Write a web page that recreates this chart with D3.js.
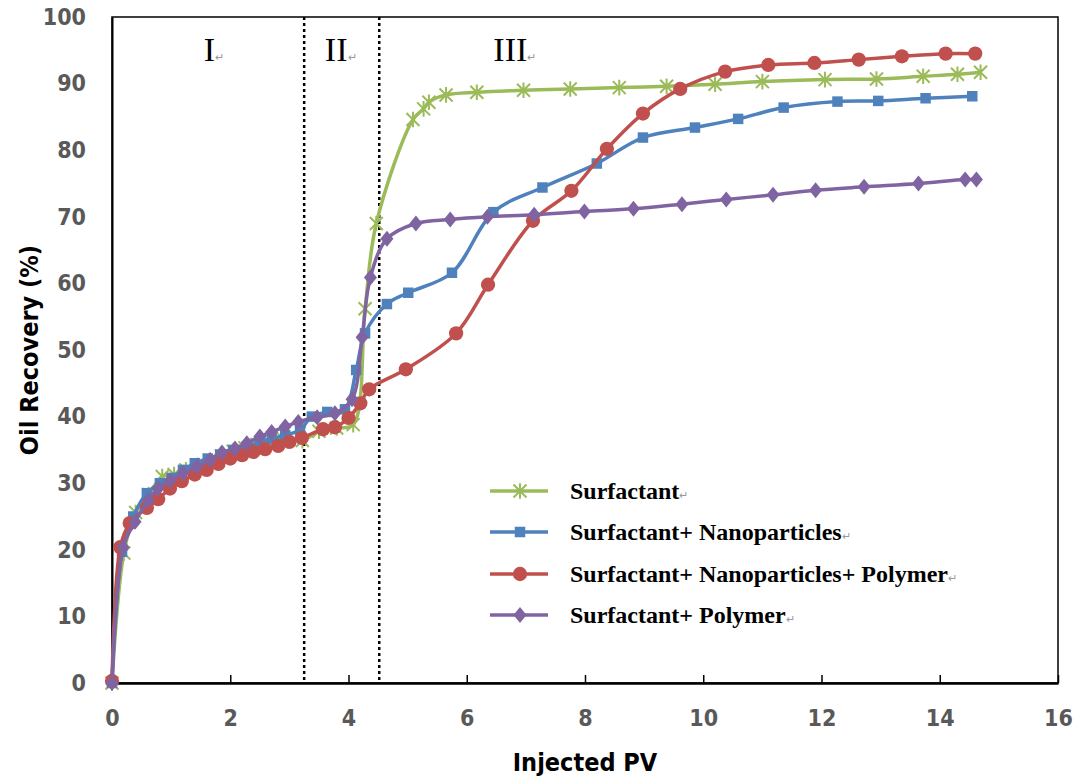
<!DOCTYPE html>
<html>
<head>
<meta charset="utf-8">
<script src="https://cdn.jsdelivr.net/npm/d3@7"></script>
<style>
  body { margin: 0; background: #fff; }
  svg { display: block; }
</style>
</head>
<body>
<svg id="chart"></svg>
<script>
// data, [injected PV, oil recovery %]
const surfactant = [[0,0],[0.2,19.5],[0.4,25.6],[0.62,28.3],[0.85,31],[1.05,31.3],[1.25,32],[1.45,32.7],
  [1.65,33.4],[1.85,34.1],[2.05,34.8],[2.25,35.3],[2.45,35.8],[2.65,36.2],[2.9,36.6],[3.22,36.4],
  [3.5,37.8],[3.8,38.3],[4.08,38.8],[4.28,56.2],[4.47,69],[5.09,84.6],[5.27,86.2],[5.36,87.2],
  [5.65,88.3],[6.17,88.7],[6.96,89],[7.75,89.2],[8.58,89.4],[9.38,89.6],[10.2,89.9],[11.0,90.3],
  [12.06,90.6],[12.93,90.7],[13.72,91.1],[14.3,91.4],[14.69,91.7]];
const surfNano = [[0,0],[0.17,19.7],[0.36,25],[0.59,28.5],[0.81,30],[1.01,30.8],[1.2,32],[1.4,33],
  [1.62,33.7],[1.83,34.3],[2.05,35],[2.28,35.5],[2.5,36.2],[2.7,36.7],[2.93,37.2],[3.18,38],
  [3.38,40],[3.64,40.7],[3.94,41.1],[4.13,47],[4.28,52.5],[4.65,56.9],[5.01,58.6],[5.75,61.6],
  [6.45,70.7],[7.28,74.4],[8.2,78],[8.98,81.9],[9.86,83.4],[10.59,84.7],[11.36,86.4],[12.27,87.3],
  [12.96,87.4],[13.76,87.8],[14.55,88.1]];
const surfNanoPoly = [[0,0.3],[0.14,20.4],[0.3,24],[0.59,26.3],[0.78,27.6],[0.98,29.2],[1.18,30.3],
  [1.4,31.3],[1.6,32],[1.8,32.9],[2.0,33.7],[2.2,34.2],[2.39,34.7],[2.59,35.1],[2.81,35.6],[3.0,36.2],
  [3.21,36.8],[3.57,38.1],[3.77,38.4],[4.0,39.8],[4.2,42],[4.35,44.1],[4.97,47.1],[5.82,52.5],
  [6.36,59.8],[7.12,69.4],[7.77,73.9],[8.37,80.2],[8.98,85.5],[9.61,89.2],[10.37,91.8],[11.1,92.8],
  [11.88,93.1],[12.63,93.6],[13.36,94.1],[14.1,94.5],[14.6,94.5]];
const surfPoly = [[0,0],[0.19,20.4],[0.39,24.2],[0.61,27.4],[0.78,29.2],[0.98,30.4],[1.2,31.5],
  [1.43,32.5],[1.66,33.5],[1.86,34.6],[2.08,35.2],[2.28,36],[2.5,37],[2.7,37.7],[2.93,38.5],
  [3.15,39.2],[3.47,39.9],[3.77,40.5],[4.06,42.6],[4.23,51.9],[4.37,60.9],[4.65,66.7],[5.14,69],
  [5.72,69.6],[6.35,70],[7.14,70.3],[7.99,70.8],[8.82,71.2],[9.64,71.9],[10.39,72.6],[11.18,73.3],
  [11.9,74],[12.72,74.5],[13.64,75],[14.43,75.6],[14.62,75.6]];

const seriesNames = ['Surfactant', 'Surfactant+ Nanoparticles',
  'Surfactant+ Nanoparticles+ Polymer', 'Surfactant+ Polymer'];
const seriesColors = ['#9bbb59', '#4f81bd', '#c0504d', '#8064a2'];
const seriesMarkers = ['star', 'square', 'circle', 'diamond'];
const stageBounds = [3.25, 4.52];
const stageLabels = ['I', 'II', 'III'];
const stageLabelX = [1.55, 3.6, 6.45];
const xTicks = d3.range(0, 17, 2);
const yTicks = d3.range(0, 101, 10);

const W = 1076, H = 780;
const margin = {top: 17, right: 18, bottom: 97, left: 112};
const svg = d3.select('#chart').attr('width', W).attr('height', H);

const x = d3.scaleLinear().domain([0, 16]).range([margin.left, W - margin.right]);
const y = d3.scaleLinear().domain([0, 100]).range([H - margin.bottom, margin.top]);

const tickFont = '"Liberation Sans Narrow", "DejaVu Sans Condensed", "Open Sans", sans-serif';

// plot frame
svg.append('rect')
  .attr('x', x(0)).attr('y', y(100))
  .attr('width', x(16) - x(0)).attr('height', y(0) - y(100))
  .attr('fill', 'none').attr('stroke', '#000').attr('stroke-width', 1.5);

// x axis, ticks pointing inwards
const xAxis = svg.append('g')
  .attr('transform', `translate(0,${y(0)})`)
  .call(d3.axisBottom(x).tickValues(xTicks).tickSizeInner(-8).tickSizeOuter(0).tickPadding(35));
xAxis.select('.domain').attr('stroke-width', 2.5);
xAxis.selectAll('line').attr('stroke-width', 1.5);
xAxis.selectAll('text')
  .attr('font-family', tickFont).attr('font-size', 23).attr('font-weight', 'bold')
  .attr('fill', '#595959').attr('dy', '0.35em');

const yAxis = svg.append('g')
  .attr('transform', `translate(${x(0)},0)`)
  .call(d3.axisLeft(y).tickValues(yTicks).tickSize(0).tickPadding(26));
yAxis.select('.domain').attr('stroke-width', 2);
yAxis.selectAll('text')
  .attr('font-family', tickFont).attr('font-size', 23).attr('font-weight', 'bold')
  .attr('fill', '#595959');

// axis titles
svg.append('text')
  .attr('x', 585).attr('y', 771)
  .attr('text-anchor', 'middle')
  .attr('font-family', tickFont).attr('font-size', 25).attr('font-weight', 'bold')
  .text('Injected PV');
svg.append('text')
  .attr('transform', `translate(38,${(y(0) + y(100)) / 2}) rotate(-90)`)
  .attr('text-anchor', 'middle')
  .attr('font-family', tickFont).attr('font-size', 25).attr('font-weight', 'bold')
  .text('Oil Recovery (%)');

// stage boundaries
svg.selectAll('.stage')
  .data(stageBounds)
  .join('line')
  .attr('x1', d => x(d)).attr('x2', d => x(d))
  .attr('y1', y(100)).attr('y2', y(0))
  .attr('stroke', '#000').attr('stroke-width', 2.5)
  .attr('stroke-dasharray', '3,3');

const stageText = svg.selectAll('.stageLabel')
  .data(stageLabels)
  .join('text')
  .attr('x', (d, i) => x(stageLabelX[i]))
  .attr('y', 61)
  .attr('font-family', '"Liberation Serif", "Times New Roman", serif')
  .attr('font-size', 34)
  .text(d => d);
stageText.append('tspan').attr('font-size', 11).attr('fill', '#999').text('\u21b5');

// markers
function drawMarker(g, type, color) {
  if (type === 'star') {
    const s = 6.5;
    g.append('path')
      .attr('d', `M${-s},${-s}L${s},${s}M${-s},${s}L${s},${-s}M0,${-s * 1.2}L0,${s * 1.2}`)
      .attr('stroke', color).attr('stroke-width', 2).attr('fill', 'none');
  } else if (type === 'square') {
    g.append('path').attr('d', d3.symbol(d3.symbolSquare, 110)()).attr('fill', color);
  } else if (type === 'circle') {
    g.append('path').attr('d', d3.symbol(d3.symbolCircle, 160)()).attr('fill', color);
  } else {
    g.append('path').attr('d', 'M0,-8L6.5,0L0,8L-6.5,0Z').attr('fill', color);
  }
}

const line = d3.line()
  .x(d => x(d[0])).y(d => y(d[1]))
  .curve(d3.curveCatmullRom.alpha(0.5));

const allSeries = [surfactant, surfNano, surfNanoPoly, surfPoly];
allSeries.forEach((data, i) => {
  const g = svg.append('g');
  g.append('path')
    .datum(data)
    .attr('d', line)
    .attr('fill', 'none')
    .attr('stroke', seriesColors[i])
    .attr('stroke-width', 3.5);
  g.selectAll('.pt')
    .data(data)
    .join('g')
    .attr('transform', d => `translate(${x(d[0])},${y(d[1])})`)
    .each(function () { drawMarker(d3.select(this), seriesMarkers[i], seriesColors[i]); });
});

// legend
const legendY = [491, 532, 574, 615];
seriesNames.forEach((name, i) => {
  const g = svg.append('g').attr('transform', `translate(490,${legendY[i]})`);
  g.append('line').attr('x1', 0).attr('x2', 58)
    .attr('stroke', seriesColors[i]).attr('stroke-width', 3.5);
  const m = g.append('g').attr('transform', 'translate(30,0)');
  drawMarker(m, seriesMarkers[i], seriesColors[i]);
  const t = g.append('text')
    .attr('x', 80).attr('dy', '0.35em')
    .attr('font-family', '"Liberation Serif", "Times New Roman", serif')
    .attr('font-size', 24).attr('font-weight', 'bold')
    .text(name);
  t.append('tspan').attr('font-size', 11).attr('font-weight', 'normal').attr('fill', '#999').text('\u21b5');
});
</script>
</body>
</html>
